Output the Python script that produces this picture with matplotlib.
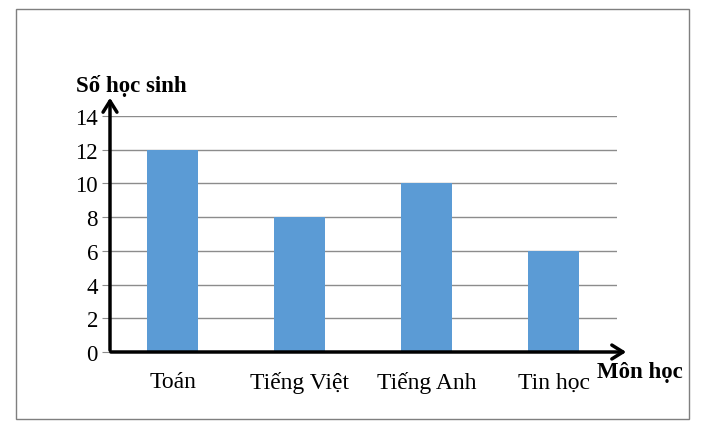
import matplotlib
matplotlib.use("Agg")
import matplotlib.pyplot as plt
from matplotlib.patches import Rectangle

categories = ["Toán", "Tiếng Việt", "Tiếng Anh", "Tin học"]
values = [12, 8, 10, 6]
yticks = [0, 2, 4, 6, 8, 10, 12, 14]

plt.rcParams['font.family'] = ['Liberation Serif', 'DejaVu Serif']

W, H = 704, 431
fig = plt.figure(figsize=(W/100, H/100), dpi=100)

def fx(px): return px / W
def fy(py): return 1 - py / H

# outer border
fig.patches.append(Rectangle((fx(16), fy(420)), fx(689) - fx(16), fy(10) - fy(420),
                             transform=fig.transFigure, fill=False, edgecolor='#7f7f7f', lw=1))

ax = fig.add_axes([fx(109), fy(353), fx(617) - fx(109), fy(117) - fy(353)])
x = list(range(len(categories)))
ax.bar(x, values, width=0.4, color='#5b9bd5', zorder=2)
ax.set_xlim(-0.5, len(categories) - 0.5)
ax.set_ylim(0, 14)
ax.set_yticks(yticks)
ax.set_yticklabels([str(t) for t in yticks], fontsize=16.5)
ax.yaxis.grid(True, color='#8c8c8c', lw=1, zorder=0)
ax.tick_params(axis='y', length=5, color='#8c8c8c', pad=3)
ax.set_xticks(x)
ax.set_xticklabels(categories, fontsize=17)
ax.tick_params(axis='x', length=0, pad=14)
for s in ax.spines.values():
    s.set_visible(False)

# arrow axes
fig.add_artist(matplotlib.patches.FancyArrowPatch((fx(110), fy(354)), (fx(110), fy(96)),
               transform=fig.transFigure, arrowstyle='->,head_width=5,head_length=8',
               lw=2.5, color='black', mutation_scale=1))
fig.add_artist(matplotlib.patches.FancyArrowPatch((fx(108), fy(353)), (fx(629), fy(353)),
               transform=fig.transFigure, arrowstyle='->,head_width=5,head_length=8',
               lw=2.5, color='black', mutation_scale=1))

fig.text(fx(131), fy(86), "Số học sinh", fontsize=16.5, fontweight='bold', ha='center', va='center')
fig.text(fx(640), fy(373), "Môn học", fontsize=16.5, fontweight='bold', ha='center', va='center')

fig.savefig("out.png", dpi=100)
